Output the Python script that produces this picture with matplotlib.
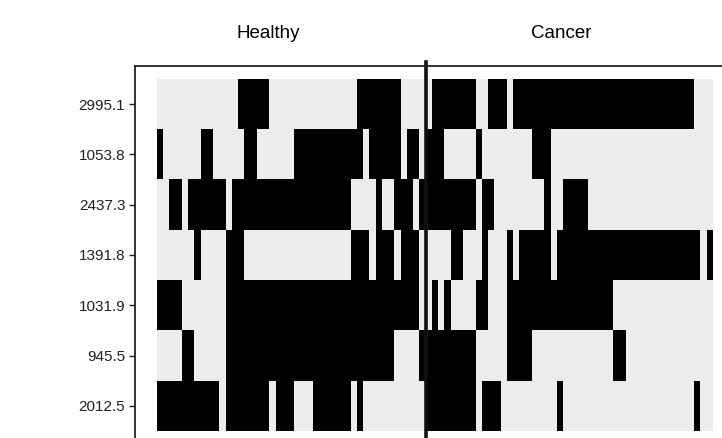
import numpy as np
import matplotlib
matplotlib.use("Agg")
import matplotlib.pyplot as plt
from matplotlib.colors import ListedColormap

plt.rcParams['font.family'] = ['Liberation Sans', 'DejaVu Sans']

# feature labels, top to bottom
features = ["2995.1", "1053.8", "2437.3", "1391.8", "1031.9", "945.5", "2012.5"]
n_healthy = 43
n_cancer = 46

# columns (samples) where each feature is "on", as inclusive (start, end) runs
on_runs = [
    [(13, 17), (32, 38), (44, 50), (53, 55), (57, 85)],
    [(0, 0), (7, 8), (14, 15), (22, 32), (34, 38), (40, 41), (43, 45), (51, 51), (60, 62)],
    [(2, 3), (5, 10), (12, 30), (35, 35), (38, 40), (42, 50), (52, 53), (62, 62), (65, 68)],
    [(6, 6), (11, 13), (31, 33), (35, 37), (39, 41), (47, 48), (52, 52), (56, 56),
     (58, 62), (64, 86), (88, 88)],
    [(0, 3), (11, 41), (44, 44), (46, 46), (51, 52), (56, 72)],
    [(4, 5), (11, 37), (42, 50), (56, 59), (73, 74)],
    [(0, 9), (11, 17), (19, 21), (25, 30), (32, 32), (43, 50), (52, 54), (64, 64), (86, 86)],
]

n_cols = n_healthy + n_cancer
grid = np.zeros((len(features), n_cols))
for r, runs in enumerate(on_runs):
    for a, b in runs:
        grid[r, a:b + 1] = 1

fig = plt.figure(figsize=(7.22, 4.38), dpi=100)
# axes runs a bit past the right and bottom edge of the figure
ax = fig.add_axes([135 / 722, -6 / 438, 600 / 722, 378 / 438])

ax.imshow(grid, cmap=ListedColormap(['#ececec', 'black']), aspect='auto',
          interpolation='nearest', vmin=0, vmax=1)

pad_x = 22 / (556 / n_cols)
pad_y = 13 / (352 / len(features))
ax.set_xlim(-0.5 - pad_x, n_cols - 0.5 + pad_x)
ax.set_ylim(len(features) - 0.5 + pad_y, -0.5 - pad_y)

# split between the two groups
ax.axvline(n_healthy - 0.5, ymin=-0.05, ymax=1.01, color='#111111', lw=2.6, clip_on=False)

ax.set_yticks(range(len(features)))
ax.set_yticklabels(features, fontsize=11)
ax.set_xticks([])
ax.tick_params(axis='y', length=4, width=1, pad=3, colors='#222222')
for side in ['right', 'bottom']:
    ax.spines[side].set_visible(False)
for side in ['left', 'top']:
    ax.spines[side].set_linewidth(1.3)
    ax.spines[side].set_color('#222222')

fig.text(268.5 / 722, 1 - 33 / 438, "Healthy", ha='center', va='center', fontsize=13.5)
fig.text(561 / 722, 1 - 33 / 438, "Cancer", ha='center', va='center', fontsize=13.5)

fig.savefig("out.png", dpi=100)
